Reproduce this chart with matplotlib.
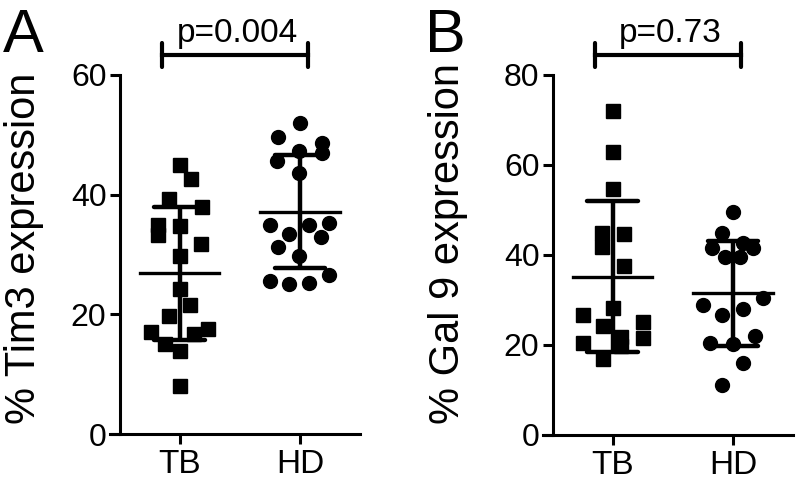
import matplotlib
matplotlib.use("Agg")
import matplotlib.pyplot as plt
import numpy as np
from matplotlib.transforms import blended_transform_factory

plt.rcParams['font.family'] = ['Liberation Sans', 'DejaVu Sans']

# Panel A: % Tim3 expression
tim3_tb = [45, 42.7, 39.3, 38, 35, 33.2, 34.7, 31.7, 29.7, 24.3, 21.5, 19.8, 17, 15, 13.8, 16.7, 17.5, 8]
tim3_tb_dx = [0, 11, -11, 22, -22, -22, 0, 21, 0, 0, 10, -11, -29, -15, 0, 14, 28, 0]
tim3_hd = [52, 49.7, 48.7, 47.3, 47, 45.7, 43.7, 35, 33.5, 35, 35.3, 33, 31.2, 29.7, 25.5, 25, 25.3, 26.5]
tim3_hd_dx = [0, -22, 22, -1, 22, -23, -1, -30, -11, 9, 29, 21, -22, -1, -30, -11, 9, 29]

# Panel B: % Gal 9 expression
gal9_tb = [72, 62.9, 54.7, 44.9, 41.8, 44.7, 37.6, 28.2, 26.7, 24.2, 25.1, 21.6, 20.4, 21.8, 19.8, 16.9]
gal9_tb_dx = [0, 0, 0, -11, -11, 11, 11, 0, -30, -10, 30, 30, -30, 8, 8, -10]
gal9_hd = [49.6, 44.9, 41.6, 42.7, 41.6, 39.6, 39.6, 30.4, 28.9, 26.7, 28, 20.4, 20.2, 22, 16, 11.1]
gal9_hd_dx = [0, -11, -21, 10, 20, -8, 7, 30, -30, -11, 10, -23, 0, 22, 10, -11]

groups = ["TB", "HD"]
W, H = 797, 484


def panel(ax, tb, tb_dx, hd, hd_dx, ymax, ystep, ylabel, ptext, letter, label_x, label_y, letter_x):
    for i, (vals, dx, mk, ms) in enumerate([(tb, tb_dx, 's', 9.5), (hd, hd_dx, 'o', 10)]):
        x = i + np.array(dx) / 120.0
        ax.plot(x, vals, mk, color='black', ms=ms, mec='black', zorder=3, clip_on=False)
        m = np.mean(vals)
        sd = np.std(vals, ddof=1)
        ax.plot([i - 0.33, i + 0.33], [m, m], color='black', lw=2.4, zorder=4)
        ax.plot([i, i], [m - sd, m + sd], color='black', lw=3.2, zorder=4, solid_capstyle='butt')
        for y in (m - sd, m + sd):
            ax.plot([i - 0.21, i + 0.21], [y, y], color='black', lw=3.2, zorder=4,
                    solid_capstyle='round')
    ax.set_xlim(-0.58, 1.5)
    ax.set_ylim(0, ymax)
    ax.spines['left'].set_position(('data', -0.5))
    ax.spines['top'].set_visible(False)
    ax.spines['right'].set_visible(False)
    for s in ('left', 'bottom'):
        ax.spines[s].set_linewidth(2.2)
    ax.set_xticks([0, 1])
    ax.set_xticklabels(groups, fontsize=24)
    ax.set_yticks(np.arange(0, ymax + 1, ystep))
    ax.tick_params(axis='both', width=2.2, length=7.5, color='black')
    ax.tick_params(axis='y', labelsize=23, pad=2)
    ax.tick_params(axis='x', pad=3)
    ax.set_ylabel(ylabel, fontsize=30)
    ax.yaxis.set_label_coords(label_x, label_y)

    tr = blended_transform_factory(ax.transData, ax.transAxes)
    ax.plot([-0.15, 1.07], [1.056, 1.056], color='black', lw=3, transform=tr, clip_on=False)
    for xb in (-0.15, 1.07):
        ax.plot([xb, xb], [1.022, 1.09], color='black', lw=3, transform=tr, clip_on=False,
                solid_capstyle='round')
    ax.text(0.48, 1.092, ptext, fontsize=24, ha='center', va='baseline', transform=tr)
    ax.text(letter_x, 1.064, letter, fontsize=44, ha='left', va='baseline',
            transform=ax.transAxes)


fig = plt.figure(figsize=(W / 100, H / 100), dpi=100)
axA = fig.add_axes([110 / W, (H - 434) / H, 250 / W, 359 / H])
axB = fig.add_axes([543 / W, (H - 435) / H, 250 / W, 360 / H])

panel(axA, tim3_tb, tim3_tb_dx, tim3_hd, tim3_hd_dx, 60, 20, "% Tim3 expression", "p=0.004", "A",
      -0.264, 0.518, -0.43)
panel(axB, gal9_tb, gal9_tb_dx, gal9_hd, gal9_hd_dx, 80, 20, "% Gal 9 expression", "p=0.73", "B",
      -0.302, 0.533, -0.47)

fig.savefig("out.png", dpi=100)
